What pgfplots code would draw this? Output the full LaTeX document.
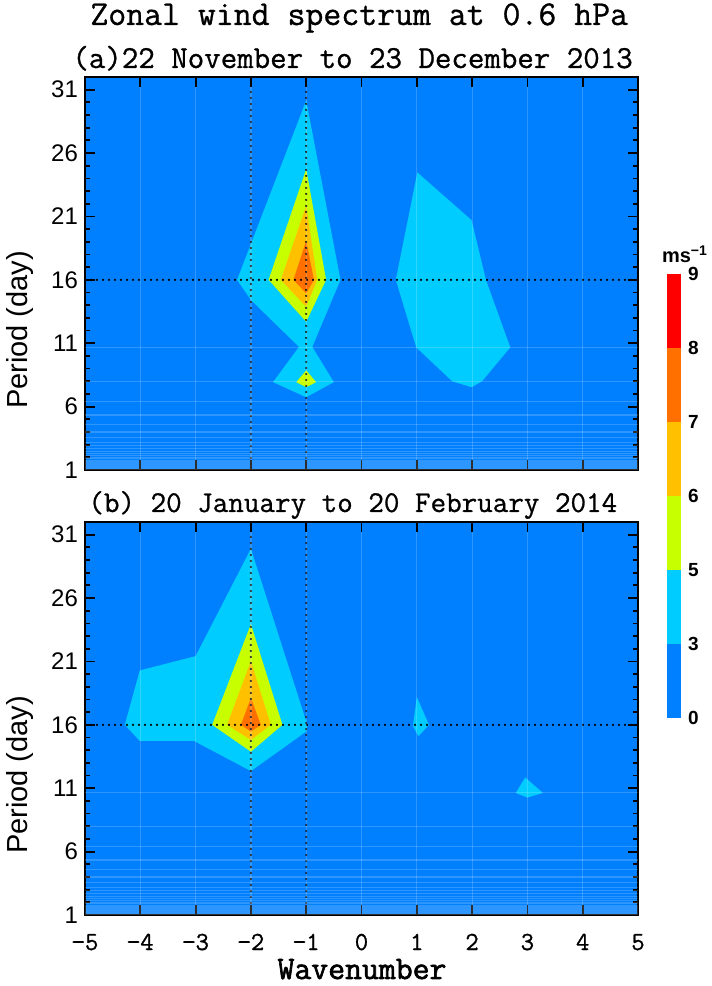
\documentclass[border=0pt]{standalone}
\usepackage{fontspec}
\setmainfont{Liberation Sans}
\newfontfamily\hersh[FakeBold=0.9]{Latin Modern Mono}
\newfontfamily\hershb[FakeBold=2]{Latin Modern Mono}
\newfontfamily\helv{Liberation Sans}
\usepackage{pgfplots}
\pgfplotsset{compat=1.18}
\definecolor{lev0}{HTML}{0080FF}
\definecolor{lev3}{HTML}{00CCFF}
\definecolor{lev5}{HTML}{C8FF00}
\definecolor{lev6}{HTML}{FFC000}
\definecolor{lev7}{HTML}{FF7000}
\definecolor{lev8}{HTML}{FF0000}

\pgfplotsset{
  spec/.style={
    anchor=south west, scale only axis, width=276.5pt, height=196.5pt,
    xmin=-5, xmax=5, ymin=1, ymax=32,
    axis on top, axis background/.style={fill=lev0},
    xtick={-5,...,5}, ytick={1,6,...,31}, minor y tick num=4,
    tick align=inside, major tick length=5pt, minor tick length=2.6pt,
    tick style={black, line width=0.9pt},
    axis line style={line width=1pt},
    xmajorgrids, grid style={white, opacity=0.18, line width=0.6pt},
    extra y ticks={10.667,8,6.4,5.333,4.571,4,3.556,3.2,2.909,2.667,2.462,2.286,2.133,2,1.882,1.778,1.684,1.6,1.524,1.455,1.391,1.333,1.28,1.231,1.185,1.143,1.103,1.067,1.032},
    extra y tick labels={},
    extra y tick style={grid=major, major tick length=0pt},
    /pgf/number format/assume math mode=true,
    yticklabel style={font=\fontsize{12}{12}\selectfont\helv},
  },
  dots/.style={black, line width=1.2pt, line cap=round, dash pattern=on 0pt off 3pt},
}

\begin{document}
\begin{tikzpicture}
\useasboundingbox (0,0) rectangle (356pt,493pt);

% (a) 22 Nov - 23 Dec 2013
\begin{axis}[spec, at={(42.5pt,258pt)}, xticklabels={}]
  \addplot[fill=lev3, draw=none] coordinates {(-1,30.15) (-0.38,16) (-0.89,10.71) (-0.50,7.93) (-1,6.74) (-1.60,7.93) (-1.13,10.71) (-2.0,14.41) (-2.25,16)} -- cycle;
  \addplot[fill=lev3, draw=none] coordinates {(1.01,24.47) (1.99,20.71) (2.25,16) (2.69,10.67) (2.18,8) (1.99,7.53) (1.64,8) (0.99,10.67) (0.62,16)} -- cycle;
  \addplot[fill=lev5, draw=none] coordinates {(-1,24.73) (-0.64,16) (-1,12.69) (-1.68,16)} -- cycle;
  \addplot[fill=lev5, draw=none] coordinates {(-1,8.86) (-0.82,7.93) (-1,7.53) (-1.18,7.93)} -- cycle;
  \addplot[fill=lev6, draw=none] coordinates {(-1,21.82) (-0.80,16) (-1,13.88) (-1.46,16)} -- cycle;
  \addplot[fill=lev7, draw=none] coordinates {(-1,19.1) (-0.86,16) (-1,14.94) (-1.23,16)} -- cycle;
  \addplot[dots] coordinates {(-5,16) (5,16)};
  \addplot[dots] coordinates {(-2,1) (-2,32)};
  \addplot[dots] coordinates {(-1,1) (-1,32)};
\end{axis}

% (b) 20 Jan - 20 Feb 2014
\begin{axis}[spec, at={(42.5pt,35.5pt)},
    xticklabels={−5,−4,−3,−2,−1,0,1,2,3,4,5},
    xticklabel style={font=\fontsize{13}{13}\selectfont\hersh, anchor=base, yshift=-17.5pt}]
  \addplot[fill=lev3, draw=none] coordinates {(-2,29.89) (-0.98,16) (-1.0,15.47) (-2,12.35) (-3.03,14.73) (-4.01,14.73) (-4.28,16) (-4.01,20.29) (-3.0,21.42)} -- cycle;
  \addplot[fill=lev3, draw=none] coordinates {(1.0,18.2) (1.22,16) (1.03,15.1) (0.93,15.9)} -- cycle;
  \addplot[fill=lev3, draw=none] coordinates {(2.96,11.85) (3.28,10.63) (3.0,10.26) (2.79,10.63)} -- cycle;
  \addplot[fill=lev5, draw=none] coordinates {(-2,23.94) (-1.43,16) (-2,13.88) (-2.70,16)} -- cycle;
  \addplot[fill=lev6, draw=none] coordinates {(-2,21.02) (-1.64,16) (-2,14.81) (-2.43,16)} -- cycle;
  \addplot[fill=lev7, draw=none] coordinates {(-2,18.12) (-1.82,16) (-2,15.47) (-2.18,16)} -- cycle;
  \addplot[dots] coordinates {(-5,16) (5,16)};
  \addplot[dots] coordinates {(-2,1) (-2,32)};
  \addplot[dots] coordinates {(-1,1) (-1,32)};
\end{axis}

% colour bar
\begin{axis}[anchor=south west, at={(333.5pt,134pt)}, scale only axis,
    width=7pt, height=222pt, xmin=0, xmax=1, ymin=0, ymax=6,
    axis line style={draw=none}, xtick=\empty,
    ytick={0,...,6}, yticklabels={0,3,5,6,7,8,9}, ytick pos=right,
    major tick length=0pt,
    yticklabel style={font=\fontsize{9.5}{9.5}\selectfont\bfseries\helv}]
  \addplot[fill=lev0, draw=none] coordinates {(0,0) (1,0) (1,1) (0,1)} -- cycle;
  \addplot[fill=lev3, draw=none] coordinates {(0,1) (1,1) (1,2) (0,2)} -- cycle;
  \addplot[fill=lev5, draw=none] coordinates {(0,2) (1,2) (1,3) (0,3)} -- cycle;
  \addplot[fill=lev6, draw=none] coordinates {(0,3) (1,3) (1,4) (0,4)} -- cycle;
  \addplot[fill=lev7, draw=none] coordinates {(0,4) (1,4) (1,5) (0,5)} -- cycle;
  \addplot[fill=lev8, draw=none] coordinates {(0,5) (1,5) (1,6) (0,6)} -- cycle;
\end{axis}
\node[anchor=base, inner sep=0pt, font=\fontsize{10}{10}\selectfont\bfseries\helv] at (342.5pt,361.5pt) {ms\textsuperscript{−1}};

\node[anchor=base west, inner sep=0pt, font=\fontsize{17.4}{17.4}\selectfont\hersh] at (45pt,480.5pt) {Zonal wind spectrum at 0.6 hPa};
\node[anchor=base west, inner sep=0pt, font=\fontsize{16}{16}\selectfont\hersh] at (36pt,459pt) {(a)22 November to 23 December 2013};
\node[anchor=base west, inner sep=0pt, font=\fontsize{15.1}{15.1}\selectfont\hersh] at (44pt,237pt) {(b) 20 January to 20 February 2014};
\node[anchor=base, inner sep=0pt, font=\fontsize{16.4}{16.4}\selectfont\hershb] at (181pt,3.5pt) {Wavenumber};
\node[rotate=90, inner sep=0pt, font=\fontsize{14.5}{14.5}\selectfont\helv] at (10pt,328pt) {Period (day)};
\node[rotate=90, inner sep=0pt, font=\fontsize{14.5}{14.5}\selectfont\helv] at (10pt,105.5pt) {Period (day)};
\end{tikzpicture}
\end{document}
